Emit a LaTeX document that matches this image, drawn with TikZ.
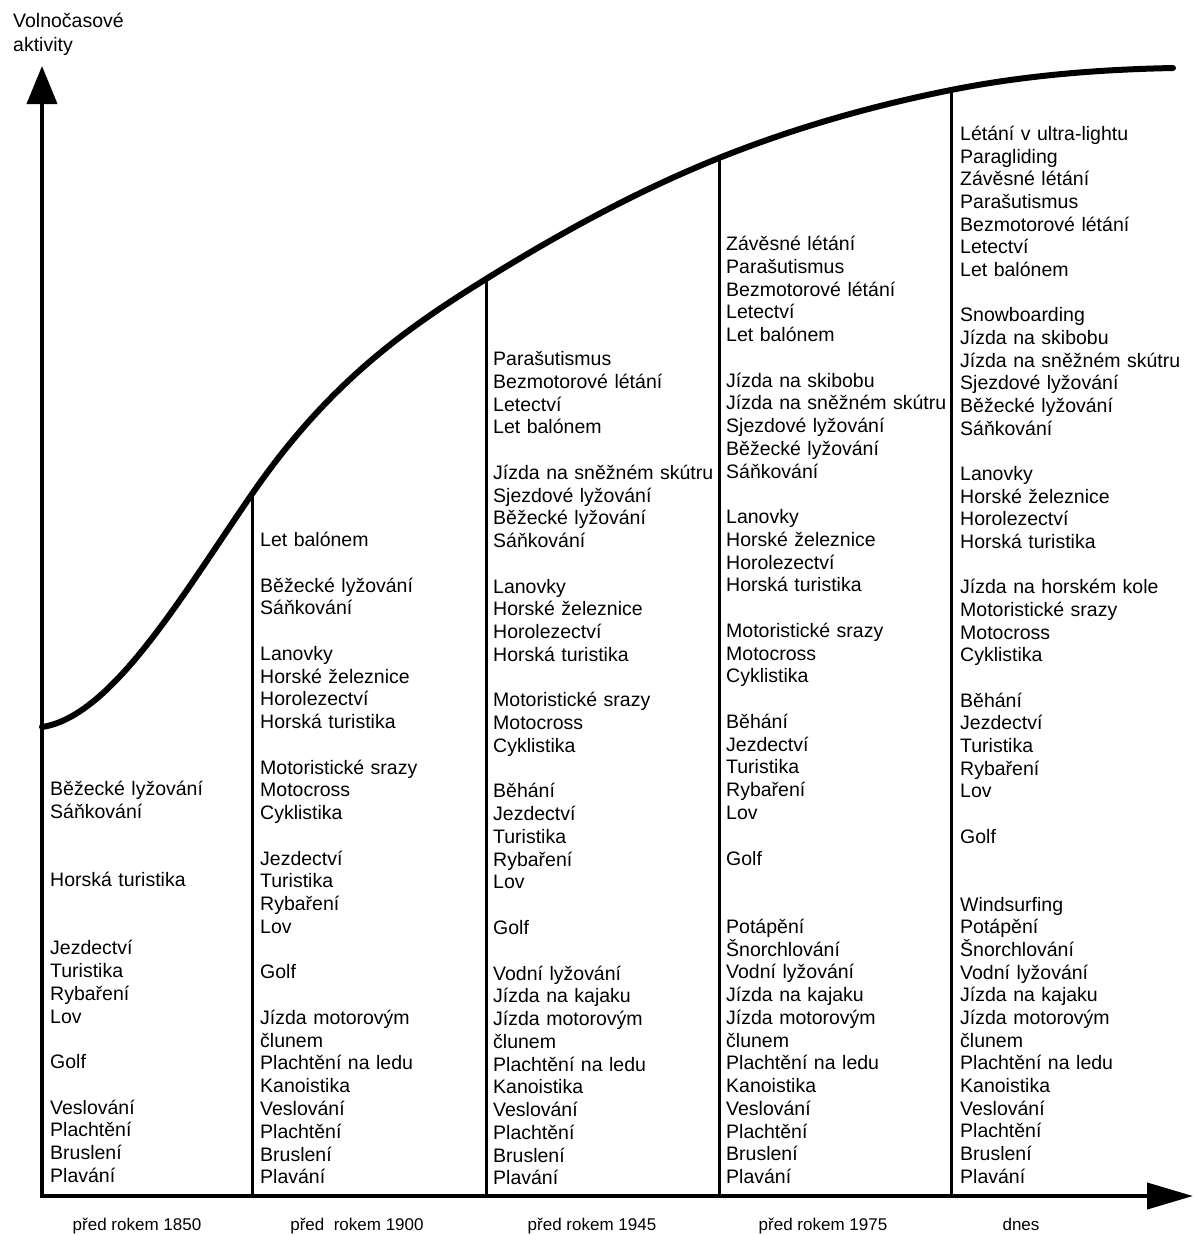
\documentclass[tikz,border=0pt]{standalone}
\usepackage{fontspec}
\setmainfont{Liberation Sans}
\usetikzlibrary{arrows.meta}
\newcommand\colfonta{\fontsize{19.5}{22.76}\selectfont\lineskiplimit=-50pt\relax}
\newcommand\colfontb{\fontsize{19.5}{22.67}\selectfont\lineskiplimit=-50pt\relax}
\begin{document}
\begin{tikzpicture}[x=1pt,y=-1pt,
  col/.style={anchor=base west, inner sep=0pt, text width=232pt, align=left,
    font=\colfonta},
  colb/.style={col, font=\colfontb},
  era/.style={anchor=base, inner sep=0pt, font=\fontsize{17}{20}\selectfont},
  axis/.style={line width=4pt},
  sep/.style={line width=3pt},
  trend/.style={line width=6pt, line cap=round}]
\useasboundingbox (0,0) rectangle (1194,1235);
% key coordinates
\coordinate (O) at (42,1196);
\coordinate (ytip) at (42,66);
\coordinate (xs) at (40,1196);
\coordinate (xtip) at (1193,1196);
\coordinate (t1) at (42,727);
\coordinate (t2) at (252,494);
\coordinate (t3) at (486,279);
\coordinate (t4) at (719,158);
\coordinate (t5) at (951,90);
\coordinate (t6) at (1173,68);
\coordinate (b2) at (252,1196);
\coordinate (b3) at (486,1196);
\coordinate (b4) at (719,1196);
\coordinate (b5) at (951,1196);
% axes
\draw[axis,-{Triangle[length=38pt,width=30pt]}] (O) -- (ytip);
\draw[axis,-{Triangle[length=46pt,width=26pt]}] (xs) -- (xtip);
% separators
\draw[sep] (t2) -- (b2);
\draw[sep] (t3) -- (b3);
\draw[sep] (t4) -- (b4);
\draw[sep] (t5) -- (b5);
% trend curve
\draw[trend] (t1) .. controls (112,716.5) and (182,595.5) .. (t2)
  .. controls (330,380.9) and (408,327.4) .. (t3)
  .. controls (563.7,230.8) and (641.3,189.1) .. (t4)
  .. controls (796.3,127.1) and (873.7,105.5) .. (t5)
  .. controls (1025,75.2) and (1099,69.5) .. (t6);
% axis label
\node[anchor=base west, inner sep=0pt, text width=200pt, align=left,
      font=\fontsize{19.5}{24}\selectfont] (ylab) at (13,27)
  {Volnočasové\\ aktivity};
% era labels
\node[era] (e1) at (137,1230) {před rokem 1850};
\node[era] (e2) at (357,1230) {před\ \ rokem 1900};
\node[era] (e3) at (592,1230) {před rokem 1945};
\node[era] (e4) at (823,1230) {před rokem 1975};
\node[era] (e5) at (1021,1230) {dnes};
% columns
\node[col] (c1) at (50,795.5) {Běžecké lyžování\\ Sáňkování\\ ~\\ ~\\ Horská turistika\\ ~\\ ~\\ Jezdectví\\ Turistika\\ Rybaření\\ Lov\\ ~\\ Golf\\ ~\\ Veslování\\ Plachtění\\ Bruslení\\ Plavání};
\node[col] (c2) at (260,546.5) {Let balónem\\ ~\\ Běžecké lyžování\\ Sáňkování\\ ~\\ Lanovky\\ Horské železnice\\ Horolezectví\\ Horská turistika\\ ~\\ Motoristické srazy\\ Motocross\\ Cyklistika\\ ~\\ Jezdectví\\ Turistika\\ Rybaření\\ Lov\\ ~\\ Golf\\ ~\\ Jízda motorovým\\ člunem\\ Plachtění na ledu\\ Kanoistika\\ Veslování\\ Plachtění\\ Bruslení\\ Plavání};
\node[col] (c3) at (493,365.5) {Parašutismus\\ Bezmotorové létání\\ Letectví\\ Let balónem\\ ~\\ Jízda na sněžném skútru\\ Sjezdové lyžování\\ Běžecké lyžování\\ Sáňkování\\ ~\\ Lanovky\\ Horské železnice\\ Horolezectví\\ Horská turistika\\ ~\\ Motoristické srazy\\ Motocross\\ Cyklistika\\ ~\\ Běhání\\ Jezdectví\\ Turistika\\ Rybaření\\ Lov\\ ~\\ Golf\\ ~\\ Vodní lyžování\\ Jízda na kajaku\\ Jízda motorovým\\ člunem\\ Plachtění na ledu\\ Kanoistika\\ Veslování\\ Plachtění\\ Bruslení\\ Plavání};
\node[col] (c4) at (726,250.5) {Závěsné létání\\ Parašutismus\\ Bezmotorové létání\\ Letectví\\ Let balónem\\ ~\\ Jízda na skibobu\\ Jízda na sněžném skútru\\ Sjezdové lyžování\\ Běžecké lyžování\\ Sáňkování\\ ~\\ Lanovky\\ Horské železnice\\ Horolezectví\\ Horská turistika\\ ~\\ Motoristické srazy\\ Motocross\\ Cyklistika\\ ~\\ Běhání\\ Jezdectví\\ Turistika\\ Rybaření\\ Lov\\ ~\\ Golf\\ ~\\ ~\\ Potápění\\ Šnorchlování\\ Vodní lyžování\\ Jízda na kajaku\\ Jízda motorovým\\ člunem\\ Plachtění na ledu\\ Kanoistika\\ Veslování\\ Plachtění\\ Bruslení\\ Plavání};
\node[colb] (c5) at (960,140.5) {Létání v ultra-lightu\\ Paragliding\\ Závěsné létání\\ Parašutismus\\ Bezmotorové létání\\ Letectví\\ Let balónem\\ ~\\ Snowboarding\\ Jízda na skibobu\\ Jízda na sněžném skútru\\ Sjezdové lyžování\\ Běžecké lyžování\\ Sáňkování\\ ~\\ Lanovky\\ Horské železnice\\ Horolezectví\\ Horská turistika\\ ~\\ Jízda na horském kole\\ Motoristické srazy\\ Motocross\\ Cyklistika\\ ~\\ Běhání\\ Jezdectví\\ Turistika\\ Rybaření\\ Lov\\ ~\\ Golf\\ ~\\ ~\\ Windsurfing\\ Potápění\\ Šnorchlování\\ Vodní lyžování\\ Jízda na kajaku\\ Jízda motorovým\\ člunem\\ Plachtění na ledu\\ Kanoistika\\ Veslování\\ Plachtění\\ Bruslení\\ Plavání};
\end{tikzpicture}
\end{document}
